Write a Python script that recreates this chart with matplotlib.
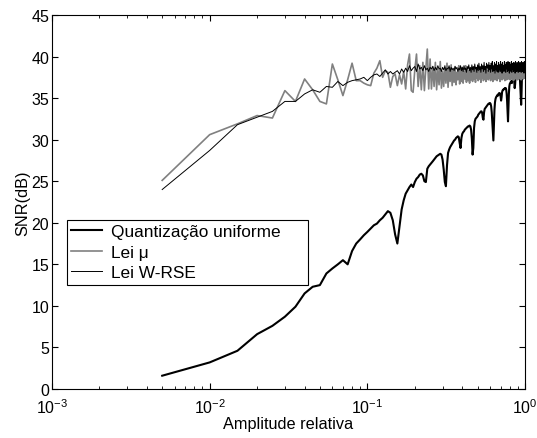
import numpy as np
import matplotlib
matplotlib.use("Agg")
import matplotlib.pyplot as plt
from matplotlib.patches import Rectangle
from matplotlib.ticker import LogLocator, FixedLocator

plt.rcParams["font.family"] = ["Liberation Sans", "DejaVu Sans"]
plt.rcParams["mathtext.fontset"] = "custom"
plt.rcParams["mathtext.rm"] = "Liberation Sans"
plt.rcParams["mathtext.default"] = "regular"

# Amplitude grid (steps of 0.005 up to full scale)
amp = np.round(np.arange(1, 201) * 0.005, 3)

# SNR (dB) - uniform quantization
snr_uniform = [
    1.6, 3.2, 4.6, 6.6, 7.6, 8.7, 9.9, 11.5, 12.3, 12.5,
    13.9, 14.5, 15.0, 15.5, 15.0, 16.6, 17.5, 18.0, 18.5, 18.9,
    19.3, 19.7, 19.9, 20.3, 20.6, 21.0, 21.4, 21.2, 20.3, 18.6,
    17.5, 19.6, 21.6, 22.7, 23.5, 23.9, 24.3, 24.6, 24.3, 24.9,
    25.3, 25.5, 25.8, 25.9, 25.7, 25.0, 24.9, 26.5, 26.8, 27.0,
    27.2, 27.4, 27.6, 27.8, 28.0, 28.1, 28.2, 28.3, 28.2, 27.6,
    26.4, 24.9, 24.4, 26.9, 28.4, 28.8, 29.1, 29.3, 29.5, 29.7,
    29.9, 30.0, 30.2, 30.3, 30.4, 30.3, 29.6, 29.0, 30.2, 30.7,
    30.9, 31.0, 31.2, 31.3, 31.4, 31.5, 31.6, 31.6, 31.7, 31.6,
    31.2, 30.1, 28.2, 29.0, 31.4, 32.2, 32.5, 32.6, 32.7, 32.8,
    33.0, 33.1, 33.2, 33.3, 33.4, 33.4, 33.2, 32.6, 32.4, 33.3,
    33.7, 33.8, 33.9, 34.0, 34.1, 34.2, 34.3, 34.3, 34.4, 34.4,
    34.3, 34.0, 33.3, 32.2, 30.9, 29.9, 31.6, 33.6, 34.5, 34.9,
    35.1, 35.2, 35.3, 35.4, 35.3, 35.5, 35.6, 35.6, 35.5, 35.2,
    34.7, 35.1, 35.7, 35.9, 36.0, 36.0, 36.1, 36.1, 36.2, 36.1,
    36.2, 36.0, 35.5, 34.6, 33.4, 32.2, 33.8, 35.5, 36.4, 36.7,
    36.8, 36.9, 37.0, 37.0, 36.8, 37.1, 37.2, 37.2, 37.3, 37.2,
    36.9, 36.2, 36.6, 37.4, 37.6, 37.7, 37.7, 37.8, 37.8, 37.9,
    37.8, 37.9, 38.0, 37.9, 37.6, 37.0, 36.1, 35.0, 34.2, 35.5,
    37.2, 37.9, 38.2, 38.3, 38.3, 38.4, 38.4, 38.3, 38.4, 38.4,
]

# SNR (dB) - mu law
snr_mu = [
    25.1, 30.6, 31.9, 32.9, 32.6, 35.9, 34.6, 37.3, 36.0, 34.6,
    34.3, 39.1, 37.2, 35.3, 37.2, 39.2, 37.1, 37.1, 36.8, 36.6,
    36.5, 38.0, 38.6, 39.5, 37.5, 38.3, 38.1, 36.3, 37.6, 37.9,
    36.5, 37.8, 36.7, 38.2, 36.1, 39.0, 40.3, 35.9, 35.7, 38.4,
    40.3, 36.4, 38.9, 36.0, 39.3, 35.9, 38.6, 40.9, 36.1, 39.7,
    36.1, 38.8, 36.4, 39.3, 36.0, 38.5, 36.6, 39.4, 36.2, 38.2,
    36.4, 38.9, 36.8, 39.2, 36.3, 38.6, 37.0, 39.0, 36.5, 38.3,
    36.9, 38.8, 36.6, 38.1, 37.2, 38.9, 36.7, 38.4, 37.0, 38.7,
    36.8, 38.2, 37.3, 38.9, 36.9, 38.5, 37.1, 38.3, 36.8, 38.6,
    37.2, 38.2, 37.0, 38.7, 37.3, 38.4, 36.9, 38.5, 37.4, 38.1,
    37.1, 38.6, 37.3, 38.3, 36.9, 38.5, 37.4, 38.2, 37.1, 38.7,
    37.3, 38.1, 37.0, 38.4, 37.5, 38.3, 37.2, 38.6, 37.4, 38.0,
    37.1, 38.5, 37.3, 38.2, 37.0, 38.4, 37.5, 38.1, 37.2, 38.6,
    37.4, 38.3, 37.1, 38.5, 37.6, 38.2, 37.3, 38.4, 37.0, 38.3,
    37.5, 38.6, 37.2, 38.1, 37.4, 38.5, 37.3, 38.2, 37.1, 38.4,
    37.6, 38.3, 37.2, 38.5, 37.4, 38.1, 37.3, 38.6, 37.5, 38.2,
    37.2, 38.4, 37.6, 38.3, 37.3, 38.5, 37.4, 38.2, 37.1, 38.4,
    37.6, 38.3, 37.3, 38.6, 37.5, 38.2, 37.4, 38.5, 37.2, 38.3,
    37.6, 38.4, 37.3, 38.2, 37.5, 38.5, 37.4, 38.3, 37.2, 38.4,
    37.6, 38.3, 37.4, 38.5, 37.3, 38.2, 37.5, 38.4, 37.4, 38.3,
]

# SNR (dB) - W-RSE law
snr_wrse = [
    24.0, 28.7, 31.8, 32.7, 33.4, 34.6, 34.6, 35.5, 36.0, 35.7,
    36.4, 36.3, 37.0, 36.5, 36.9, 37.1, 37.2, 37.3, 37.5, 37.1,
    37.5, 37.8, 37.9, 37.6, 38.0, 38.4, 37.9, 38.2, 37.9, 38.1,
    38.3, 37.9, 38.5, 38.1, 38.6, 38.2, 38.9, 38.3, 38.6, 38.8,
    38.2, 39.1, 38.5, 38.7, 38.3, 38.9, 38.4, 38.6, 38.2, 38.7,
    38.5, 38.8, 38.3, 38.7, 38.4, 38.9, 38.5, 38.6, 38.2, 38.7,
    38.4, 38.8, 38.3, 38.6, 38.5, 38.9, 38.2, 38.7, 38.4, 38.6,
    38.3, 38.8, 38.5, 38.7, 38.2, 38.6, 38.4, 38.9, 38.3, 38.7,
    38.2, 38.9, 38.4, 38.6, 38.1, 38.8, 38.5, 39.0, 38.3, 38.7,
    38.1, 39.0, 38.4, 38.8, 38.2, 39.1, 38.5, 38.7, 38.1, 39.0,
    38.3, 39.2, 38.4, 38.8, 38.1, 39.1, 38.5, 38.9, 38.2, 39.3,
    38.4, 38.8, 38.0, 39.2, 38.6, 39.0, 38.2, 39.3, 38.4, 38.9,
    38.1, 39.2, 38.5, 39.4, 38.2, 38.9, 38.3, 39.3, 38.0, 39.1,
    38.4, 39.4, 38.2, 38.9, 38.1, 39.3, 38.5, 39.0, 38.2, 39.4,
    38.3, 39.1, 38.0, 39.3, 38.4, 38.9, 38.2, 39.4, 38.3, 39.0,
    38.1, 39.3, 38.5, 39.1, 38.2, 39.4, 38.3, 38.9, 38.0, 39.3,
    38.4, 39.0, 38.2, 39.4, 38.1, 39.2, 38.5, 38.9, 38.2, 39.3,
    38.3, 39.1, 38.0, 39.4, 38.4, 38.9, 38.2, 39.3, 38.3, 39.0,
    38.1, 39.4, 38.5, 39.1, 38.2, 39.3, 38.3, 38.9, 38.1, 39.4,
    38.4, 39.0, 38.2, 39.3, 38.3, 39.1, 38.0, 39.4, 38.4, 38.9,
]

series_labels = ["Quantização uniforme", "Lei μ", "Lei W-RSE"]
y_ticks = [0, 5, 10, 15, 20, 25, 30, 35, 40, 45]

fig = plt.figure(figsize=(5.37, 4.39), dpi=100)
ax = fig.add_axes([0.0968, 0.1116, 0.8809, 0.852])

ax.plot(amp, snr_uniform, color="black", lw=1.5, label=series_labels[0])
ax.plot(amp, snr_mu, color="#808080", lw=1.2, label=series_labels[1])
ax.plot(amp, snr_wrse, color="black", lw=0.7, label=series_labels[2])

ax.set_xscale("log")
ax.set_xlim(1e-3, 1)
ax.set_ylim(0, 45)
ax.yaxis.set_major_locator(FixedLocator(y_ticks))
ax.xaxis.set_major_locator(LogLocator(base=10, numticks=10))
ax.xaxis.set_minor_locator(LogLocator(base=10, subs=np.arange(2, 10), numticks=10))

ax.tick_params(which="both", direction="in", top=True, right=True, labelsize=11.5)
ax.tick_params(axis="x", which="major", pad=6)
ax.tick_params(axis="y", which="major", pad=2)
ax.tick_params(which="major", length=4.5, width=0.8)
ax.tick_params(which="minor", length=2.5, width=0.6)
for sp in ax.spines.values():
    sp.set_linewidth(0.8)

ax.set_xlabel("Amplitude relativa", fontsize=11.7, labelpad=0)
ax.set_ylabel("SNR(dB)", fontsize=11.7, labelpad=1)

# MATLAB-style legend box: wider frame than the entries need
ax.add_patch(Rectangle((0.032, 0.278), 0.509, 0.174, transform=ax.transAxes,
                       facecolor="white", edgecolor="black", lw=0.8, zorder=4))
leg = ax.legend(loc="upper left", bbox_to_anchor=(0.032, 0.452), fontsize=12.4,
                frameon=False, handlelength=1.8,
                borderpad=0.25, labelspacing=0.32, handletextpad=0.5,
                borderaxespad=0)
leg.set_zorder(5)

fig.savefig("out.png", dpi=100)
